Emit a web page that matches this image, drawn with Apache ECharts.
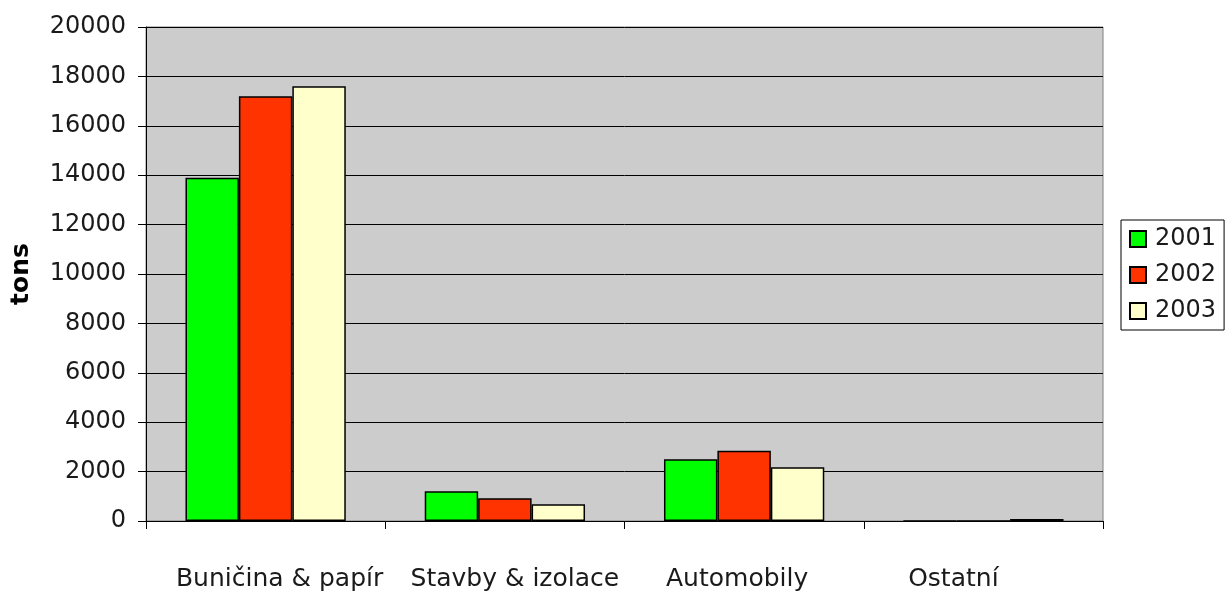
<!DOCTYPE html>
<html>
<head>
<meta charset="utf-8">
<script src="https://cdn.jsdelivr.net/npm/echarts@6/dist/echarts.min.js"></script>
<style>
  html, body { margin: 0; padding: 0; background: #ffffff; }
  #chart { width: 1225px; height: 592px; }
</style>
</head>
<body>
<div id="chart"></div>
<script>
// Consumption by sector, tons per year
const categories = ['Buničina & papír', 'Stavby & izolace', 'Automobily', 'Ostatní'];
const years = ['2001', '2002', '2003'];
const values2001 = [13900, 1200, 2500, 10];
const values2002 = [17200, 920, 2840, 10];
const values2003 = [17600, 680, 2180, 80];
const yTicks = [0, 2000, 4000, 6000, 8000, 10000, 12000, 14000, 16000, 18000, 20000];

const colors = ['#00ff00', '#ff3300', '#ffffcc'];
const seriesValues = [values2001, values2002, values2003];
const font = 'DejaVu Sans, Verdana, sans-serif';
const textColor = '#1a1a1a';

// small horizontal nudges for the category captions
const labelShift = [28, 20, -14, -60];

function captionStyle(i) {
  const s = labelShift[i];
  return {
    fontFamily: font, fontSize: 25, color: textColor,
    padding: s >= 0 ? [0, 0, 0, s] : [0, -s, 0, 0]
  };
}

const chart = echarts.init(document.getElementById('chart'));
chart.setOption({
  animation: false,
  backgroundColor: '#ffffff',
  grid: {
    left: 146, top: 27, right: 122, bottom: 70,
    show: true, backgroundColor: '#cccccc', borderColor: '#808080', borderWidth: 1
  },
  legend: {
    orient: 'vertical',
    left: 1121, top: 220,
    data: years,
    itemWidth: 16, itemHeight: 16, itemGap: 12,
    borderColor: '#000000', borderWidth: 1,
    padding: [7, 8, 7, 8],
    icon: 'rect',
    textStyle: { fontFamily: font, fontSize: 24, color: textColor, padding: [0, 0, 0, 4] }
  },
  xAxis: {
    type: 'category',
    data: categories,
    axisLine: { lineStyle: { color: '#000000', width: 1 } },
    axisTick: { show: true, length: 8, lineStyle: { color: '#000000' } },
    axisLabel: {
      margin: 46,
      interval: 0,
      fontFamily: font, fontSize: 25, color: textColor,
      formatter: function (v, i) { return '{c' + i + '|' + v + '}'; },
      rich: { c0: captionStyle(0), c1: captionStyle(1), c2: captionStyle(2), c3: captionStyle(3) }
    }
  },
  yAxis: {
    type: 'value',
    min: yTicks[0], max: yTicks[yTicks.length - 1], interval: yTicks[1] - yTicks[0],
    name: 'tons',
    nameLocation: 'middle',
    nameGap: 112,
    nameRotate: 90,
    nameTextStyle: { fontFamily: font, fontSize: 25, fontWeight: 'bold', color: '#000000' },
    axisLine: { show: true, lineStyle: { color: '#000000', width: 1 } },
    axisTick: { show: true, length: 8, lineStyle: { color: '#000000' } },
    axisLabel: {
      margin: 20, fontFamily: font, fontSize: 24, color: textColor,
      formatter: function (v) { return String(v); }
    },
    splitLine: { show: true, lineStyle: { color: '#000000', width: 1 } }
  },
  series: years.map(function (y, i) {
    return {
      name: y,
      type: 'bar',
      data: seriesValues[i],
      barGap: '0%',
      barCategoryGap: '33%',
      itemStyle: { color: colors[i], borderColor: '#000000', borderWidth: 1.5 }
    };
  })
});
</script>
</body>
</html>
